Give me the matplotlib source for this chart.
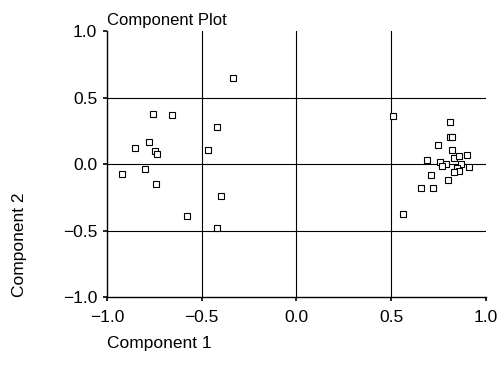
import matplotlib
matplotlib.use("Agg")
import matplotlib.pyplot as plt

plt.rcParams['font.family'] = ['Liberation Sans', 'DejaVu Sans']

comp1 = [-0.335, -0.754, -0.655, -0.418, -0.780, -0.852, -0.465, -0.745, -0.736,
         -0.799, -0.919, -0.743, -0.397, -0.579, -0.418,
         0.509, 0.562, 0.81, 0.81, 0.82, 0.75, 0.82, 0.90, 0.69, 0.76, 0.83,
         0.86, 0.79, 0.87, 0.85, 0.91, 0.86, 0.71, 0.80, 0.66, 0.72, 0.83, 0.77]
comp2 = [0.653, 0.382, 0.374, 0.280, 0.169, 0.124, 0.111, 0.099, 0.079,
         -0.036, -0.074, -0.149, -0.239, -0.389, -0.478,
         0.365, -0.372, 0.32, 0.21, 0.21, 0.15, 0.11, 0.07, 0.03, 0.02, 0.05,
         0.06, 0.00, 0.00, -0.03, -0.02, -0.05, -0.08, -0.12, -0.18, -0.18, -0.06, -0.01]
ticks = [-1.0, -0.5, 0.0, 0.5, 1.0]
tick_labels = ['\u22121.0', '\u22120.5', '0.0', '0.5', '1.0']
grid_vals = [-0.5, 0.0, 0.5]

fig = plt.figure(figsize=(5.04, 3.70), dpi=100)
ax = fig.add_axes([0.212, 0.196, 0.752, 0.719])
ax.set_xlim(-1.0, 1.0)
ax.set_ylim(-1.0, 1.0)
for g in grid_vals:
    ax.axhline(g, color='black', lw=0.8, zorder=1)
    ax.axvline(g, color='black', lw=0.8, zorder=1)
ax.plot(comp1, comp2, linestyle='none', marker='s', markersize=3.8,
        markerfacecolor='white', markeredgecolor='black', markeredgewidth=0.8, zorder=3)
ax.spines['top'].set_visible(False)
ax.spines['right'].set_visible(False)
ax.spines['left'].set_linewidth(1.0)
ax.spines['bottom'].set_linewidth(1.0)
ax.set_xticks(ticks)
ax.set_yticks(ticks)
ax.set_xticklabels(tick_labels)
ax.set_yticklabels(tick_labels)
ax.tick_params(direction='out', length=3, width=1.2, labelsize=12.5)
ax.tick_params(axis='y', pad=4)
ax.tick_params(axis='x', pad=6)
ax.set_title('Component Plot', loc='left', fontsize=12, pad=5)
ax.set_xlabel('Component 1', loc='left', fontsize=12.5, labelpad=8)
ax.set_ylabel('Component 2', loc='bottom', fontsize=12.5, labelpad=26)
fig.savefig('out.png', dpi=100)
